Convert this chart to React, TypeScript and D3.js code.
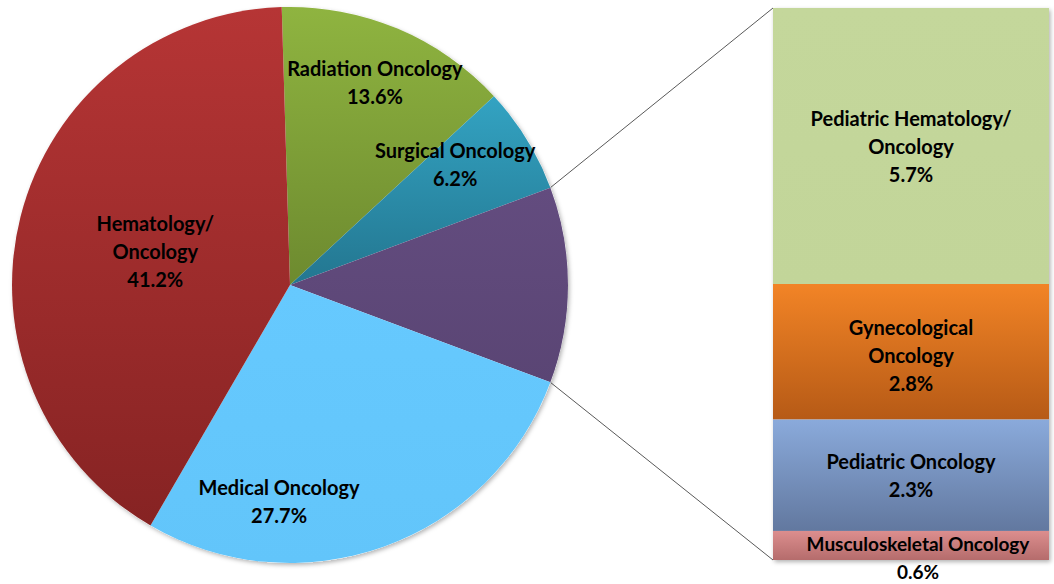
import { useEffect, useRef } from 'react'
import * as d3 from 'd3'

// pie slices, clockwise from 12 o'clock
const pieCats = ['Radiation Oncology', 'Surgical Oncology', 'Other', 'Medical Oncology', 'Hematology/ Oncology']
const pieVals = [13.6, 6.2, 11.4, 27.7, 41.2]
const pieLines = [['Radiation Oncology', '13.6%'], ['Surgical Oncology', '6.2%'], [], ['Medical Oncology', '27.7%'], ['Hematology/', 'Oncology', '41.2%']]

// stacked bar breaking down "Other"
const barCats = ['Pediatric Hematology/ Oncology', 'Gynecological Oncology', 'Pediatric Oncology', 'Musculoskeletal Oncology']
const barVals = [5.7, 2.8, 2.3, 0.6]
const barLines = [['Pediatric Hematology/', 'Oncology', '5.7%'], ['Gynecological', 'Oncology', '2.8%'], ['Pediatric Oncology', '2.3%'], ['Musculoskeletal Oncology', '0.6%']]

const pieColors = [['#8fb440', '#6d8a2f'], ['#33a3c2', '#237690'], ['#634c7f', '#5a4574'], ['#66c9fe', '#62c5fa'], ['#b63535', '#862323']]
const barColors = [['#c4d79b', '#c2d599'], ['#f28426', '#b65a16'], ['#8aaadb', '#62789f'], ['#dc8e8e', '#b56c6c']]

export default function App() {
  const svgRef = useRef<SVGSVGElement>(null)

  useEffect(() => {
    if (!svgRef.current) return
    const W = 1054, H = 584
    const svg = d3.select(svgRef.current)
    svg.selectAll('*').remove()
    svg.attr('width', W).attr('height', H)

    const defs = svg.append('defs')
    const shadow = defs.append('filter').attr('id', 'shadow').attr('x', '-10%').attr('y', '-10%').attr('width', '120%').attr('height', '120%')
    shadow.append('feDropShadow').attr('dx', 1.5).attr('dy', 2).attr('stdDeviation', 2).attr('flood-color', '#000').attr('flood-opacity', 0.3)

    const grad = (id: string, c: string[]) => {
      const g = defs.append('linearGradient').attr('id', id).attr('x1', 0).attr('y1', 0).attr('x2', 0).attr('y2', 1)
      g.append('stop').attr('offset', '0%').attr('stop-color', c[0])
      g.append('stop').attr('offset', '100%').attr('stop-color', c[1])
    }
    pieColors.forEach((c, i) => grad(`pg${i}`, c))
    barColors.forEach((c, i) => grad(`bg${i}`, c))

    const cx = 290, cy = 285, R = 278
    const total = d3.sum(pieVals)
    const otherIdx = 2
    // rotate so the "Other" slice is centred on 3 o'clock
    const before = d3.sum(pieVals.slice(0, otherIdx)) + pieVals[otherIdx] / 2
    const start = Math.PI / 2 - (before / total) * 2 * Math.PI

    const pie = d3.pie<number>().sort(null).value(d => d).startAngle(start).endAngle(start + 2 * Math.PI)
    const arcs = pie(pieVals)
    const arc = d3.arc<d3.PieArcDatum<number>>().innerRadius(0).outerRadius(R)

    const font = "Lato, 'Open Sans', sans-serif"
    const fontSize = 20
    const lineH = 28

    // bar geometry
    const barX = 773, barW = 276, barTop = 8, barBottom = 560
    const y = d3.scaleLinear().domain([0, d3.sum(barVals)]).range([barTop, barBottom])
    const cum = barVals.map((_, i) => d3.sum(barVals.slice(0, i)))

    // connector lines
    const oa = arcs[otherIdx]
    const pt = (a: number) => [cx + R * Math.sin(a), cy - R * Math.cos(a)]
    const p1 = pt(oa.startAngle), p2 = pt(oa.endAngle)
    svg.append('line').attr('x1', p1[0]).attr('y1', p1[1]).attr('x2', barX).attr('y2', barTop)
      .attr('stroke', '#595959').attr('stroke-width', 1)
    svg.append('line').attr('x1', p2[0]).attr('y1', p2[1]).attr('x2', barX).attr('y2', barBottom)
      .attr('stroke', '#595959').attr('stroke-width', 1)

    // pie
    const g = svg.append('g').attr('transform', `translate(${cx},${cy})`)
    g.append('circle').attr('r', R).attr('fill', '#fff').attr('filter', 'url(#shadow)')
    g.selectAll('path.slice')
      .data(arcs)
      .join('path')
      .attr('class', 'slice')
      .attr('d', arc)
      .attr('fill', (_, i) => `url(#pg${i})`)

    // label positions: fraction of radius + small nudges (Excel best fit)
    const labelR = [0.79, 0.74, 0, 0.78, 0.5]
    const nudge = [[0, 0], [-10, -13], [0, 0], [-84, 12], [0, 0]]
    arcs.forEach((a, i) => {
      const lines = pieLines[i]
      if (!lines.length) return
      const mid = (a.startAngle + a.endAngle) / 2
      const lx = labelR[i] * R * Math.sin(mid) + nudge[i][0]
      const ly = -labelR[i] * R * Math.cos(mid) + nudge[i][1]
      const t = g.append('text').attr('text-anchor', 'middle').attr('font-family', font)
        .attr('font-weight', 'bold').attr('font-size', fontSize).attr('fill', '#000')
      lines.forEach((s, j) => {
        t.append('tspan').attr('x', lx).attr('y', ly + (j - (lines.length - 1) / 2) * lineH)
          .attr('dominant-baseline', 'central').text(s)
      })
    })

    // bar
    const bar = svg.append('g')
    bar.append('rect').attr('x', barX).attr('y', barTop).attr('width', barW).attr('height', barBottom - barTop)
      .attr('fill', '#fff').attr('filter', 'url(#shadow)')
    bar.selectAll('rect.seg')
      .data(barVals)
      .join('rect')
      .attr('class', 'seg')
      .attr('x', barX)
      .attr('y', (_, i) => y(cum[i]))
      .attr('width', barW)
      .attr('height', d => y(d) - y(0))
      .attr('fill', (_, i) => `url(#bg${i})`)

    const barNudge = [[0, 0], [0, 3], [0, 0], [7, 12]]
    barVals.forEach((d, i) => {
      const lines = barLines[i]
      const lx = barX + barW / 2 + barNudge[i][0]
      const ly = y(cum[i] + d / 2) + barNudge[i][1]
      const t = bar.append('text').attr('text-anchor', 'middle').attr('font-family', font)
        .attr('font-weight', 'bold').attr('font-size', i === 3 ? 19 : fontSize).attr('fill', '#000')
      lines.forEach((s, j) => {
        t.append('tspan').attr('x', lx).attr('y', ly + (j - (lines.length - 1) / 2) * lineH)
          .attr('dominant-baseline', 'central').text(s)
      })
    })
  }, [])

  return (
    <svg ref={svgRef} style={{ position: 'absolute', left: 0, top: 0, background: '#fff' }}></svg>
  )
}
